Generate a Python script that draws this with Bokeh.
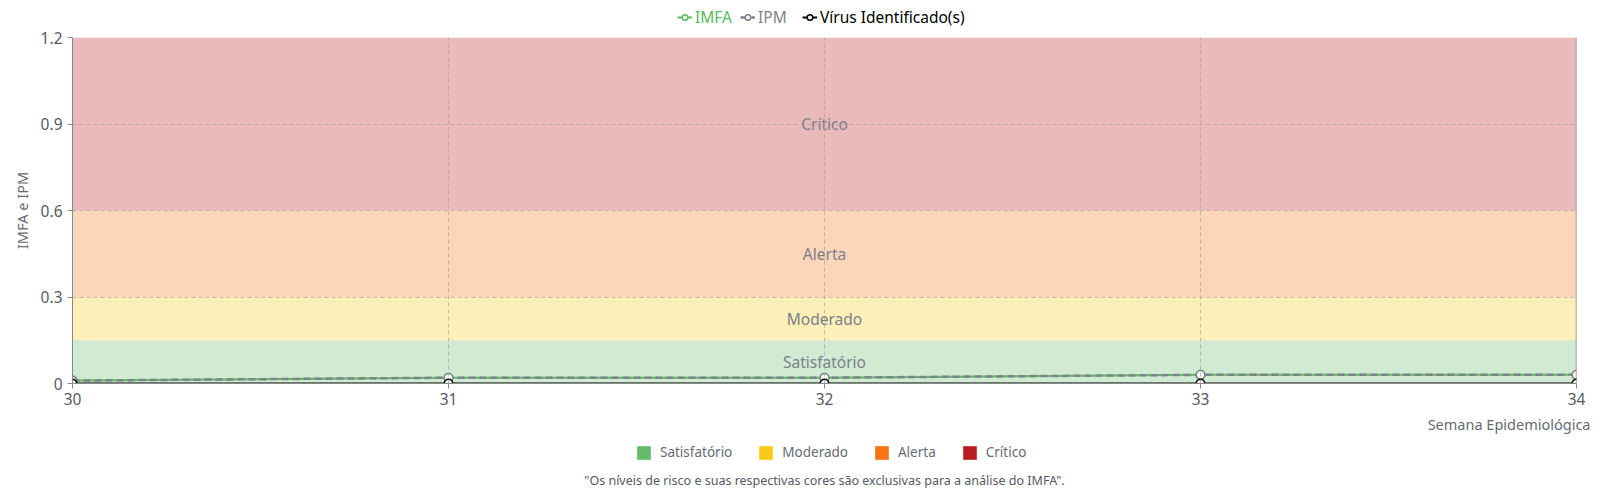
from bokeh.plotting import figure
from bokeh.models import ColumnDataSource, Legend, LegendItem, Span, Title
from bokeh.layouts import column
from bokeh.core.properties import value
from bokeh.embed import file_html
from bokeh.resources import INLINE

# dados
semanas = [30, 31, 32, 33, 34]
imfa = [0.01, 0.02, 0.02, 0.03, 0.03]
ipm = [0.01, 0.02, 0.02, 0.03, 0.03]
virus = [0, 0, 0, 0, 0]

niveis = ["Satisfatório", "Moderado", "Alerta", "Crítico"]
nivel_inicio = [0, 0.15, 0.3, 0.6]
nivel_fim = [0.15, 0.3, 0.6, 1.2]
nivel_cores = ["#66bb6a", "#f9c915", "#f97316", "#b91c1c"]

y_ticks = [0, 0.3, 0.6, 0.9, 1.2]

FONT = "Noto Sans"
CINZA = "#666b75"
VERDE = "#5cb85c"
CINZA_IPM = "#7f838d"
FW = 1504
BL, BR = 72, 82


def faixa_legenda(altura):
    # figura sem eixos, usada so para hospedar uma legenda
    f = figure(frame_width=FW, frame_height=altura, x_range=(semanas[0], semanas[-1]), y_range=(0, 1.2),
               output_backend="svg", toolbar_location=None, x_axis_location=None, y_axis_location=None,
               min_border_left=BL, min_border_right=BR, min_border_top=0, min_border_bottom=0)
    f.grid.visible = False
    f.outline_line_color = None
    return f


src = ColumnDataSource(data=dict(semana=semanas, imfa=imfa, ipm=ipm, virus=virus))
faixas = ColumnDataSource(data=dict(
    nome=niveis, inicio=nivel_inicio, fim=nivel_fim, cor=nivel_cores,
    esq=[semanas[0]] * len(niveis), dir=[semanas[-1]] * len(niveis),
    xm=[(semanas[0] + semanas[-1]) / 2] * len(niveis),
    ym=[(a + b) / 2 for a, b in zip(nivel_inicio, nivel_fim)],
))

# ---------------- grafico principal ----------------
p = figure(frame_width=FW, frame_height=346, x_range=(semanas[0], semanas[-1]), y_range=(0, 1.2),
           output_backend="svg", toolbar_location=None,
           min_border_left=BL, min_border_right=BR, min_border_top=9, min_border_bottom=0)
p.outline_line_color = None

p.quad(left="esq", right="dir", bottom="inicio", top="fim", fill_color="cor",
       fill_alpha=0.3, line_color=None, source=faixas, level="underlay")
p.text(x="xm", y="ym", text="nome", source=faixas, text_align="center", text_baseline="middle",
       text_color="#7b7f8a", text_font_size="15.5px", text_font=value(FONT))

p.grid.grid_line_dash = "4 3"
p.grid.grid_line_color = "#999999"
p.grid.grid_line_alpha = 0.6
p.grid.level = "glyph"

estilos = [("imfa", VERDE, 2, "solid"), ("ipm", CINZA_IPM, 2.5, "7 4"), ("virus", "black", 2, "solid")]
for col, cor, lw, dash in estilos:
    p.line("semana", col, source=src, line_color=cor, line_width=lw, line_dash=dash)
for col, cor, lw, dash in estilos:
    p.scatter("semana", col, source=src, size=8.5, fill_color="white", line_color=cor, line_width=1.5)

p.add_layout(Span(location=semanas[-1], dimension="height", line_color="#888888", line_width=1.5))

p.xaxis.ticker = semanas
p.yaxis.ticker = y_ticks
p.yaxis.major_label_overrides = {0: "0"}
for ax in (p.xaxis, p.yaxis):
    ax.axis_line_color = "#888888"
    ax.major_tick_line_color = "#888888"
    ax.major_tick_out = 5
    ax.major_tick_in = 0
    ax.minor_tick_line_color = None
    ax.major_label_text_font = FONT
    ax.major_label_text_font_size = "15.5px"
    ax.major_label_text_color = "#555a63"
p.xaxis.major_label_standoff = 4
p.yaxis.axis_label = "IMFA e IPM"
p.yaxis.axis_label_text_font = FONT
p.yaxis.axis_label_text_font_size = "14.5px"
p.yaxis.axis_label_text_font_style = "normal"
p.yaxis.axis_label_text_color = CINZA
p.yaxis.axis_label_standoff = 6

p.add_layout(Title(text="Semana Epidemiológica", align="right", text_font=FONT,
                   text_font_size="14.5px", text_font_style="normal", text_color=CINZA,
                   offset=-14, standoff=8), "below")

# ---------------- legenda superior ----------------
topo = faixa_legenda(28)
nomes_series = ["IMFA", "IPM", "Vírus Identificado(s)"]
pos_x = [605, 668, 730]
for (col, cor, lw, dash), nome, xpos in zip(estilos, nomes_series, pos_x):
    rl = topo.line("semana", col, source=src, line_color=cor, line_width=lw, line_dash=dash, visible=False)
    rs = topo.scatter("semana", col, source=src, size=8.5, fill_color="white", line_color=cor,
                      line_width=1.5, visible=False)
    leg = Legend(items=[LegendItem(label=nome, renderers=[rl, rs])], location=(xpos, 0),
                 orientation="horizontal", glyph_width=15, glyph_height=14, label_height=14,
                 label_standoff=3, padding=0, margin=0, border_line_color=None,
                 background_fill_alpha=0, inactive_fill_alpha=0, label_text_color=cor,
                 label_text_font=FONT, label_text_font_size="15.5px")
    topo.add_layout(leg)

# ---------------- legenda dos niveis + nota ----------------
base = faixa_legenda(31)
r_niveis = base.quad(left="esq", right="dir", bottom="inicio", top="fim", fill_color="cor",
                     line_color=None, source=faixas, visible=False)
itens = [LegendItem(label=nome, renderers=[r_niveis], index=i) for i, nome in enumerate(niveis)]
base.add_layout(Legend(items=itens, orientation="horizontal", location=(563, 7),
                       glyph_width=17, glyph_height=17, label_height=17, label_standoff=8,
                       spacing=25, padding=0, margin=0, border_line_color=None,
                       background_fill_alpha=0, inactive_fill_alpha=0, label_text_color=CINZA,
                       label_text_font=FONT, label_text_font_size="13.5px"))
base.add_layout(Title(text='"Os níveis de risco e suas respectivas cores são exclusivas para a análise do IMFA".',
                      align="center", text_font=FONT, text_font_size="12.5px", text_font_style="normal",
                      text_color="#555a63", standoff=3), "below")

layout = column(topo, p, base)
open("out.html", "w").write(file_html(layout, INLINE))
